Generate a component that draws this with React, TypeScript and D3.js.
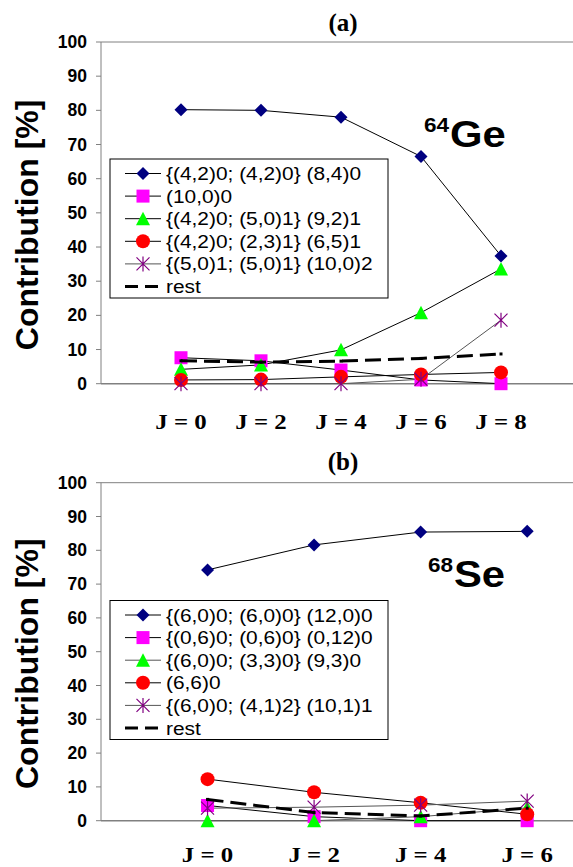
import React from "react";
import * as d3 from "d3";

// ---------- Data ----------
const categoriesA = ["J = 0", "J = 2", "J = 4", "J = 6", "J = 8"];
const categoriesB = ["J = 0", "J = 2", "J = 4", "J = 6"];
const yTicks = [0, 10, 20, 30, 40, 50, 60, 70, 80, 90, 100];

// Panel (a) 64Ge
const labelsA = [
  "{(4,2)0; (4,2)0} (8,4)0",
  "(10,0)0",
  "{(4,2)0; (5,0)1} (9,2)1",
  "{(4,2)0; (2,3)1} (6,5)1",
  "{(5,0)1; (5,0)1} (10,0)2",
  "rest",
];
const geS1 = [80.2, 80.0, 78.0, 66.5, 37.4];
const geS2 = [7.6, 6.7, 4.0, 1.1, 0.0];
const geS3 = [4.2, 5.5, 9.9, 20.8, 33.6];
const geS4 = [1.1, 1.2, 2.0, 2.7, 3.3];
const geS5 = [0.0, 0.0, 0.0, 1.3, 18.6];
const geRest = [6.7, 6.3, 6.6, 7.4, 8.7];

// Panel (b) 68Se
const labelsB = [
  "{(6,0)0; (6,0)0} (12,0)0",
  "{(0,6)0; (0,6)0} (0,12)0",
  "{(6,0)0; (3,3)0} (9,3)0",
  "(6,6)0",
  "{(6,0)0; (4,1)2} (10,1)1",
  "rest",
];
const seS1 = [74.2, 81.6, 85.4, 85.6];
const seS2 = [4.5, 1.2, 0.0, 0.0];
const seS3 = [0.0, 0.0, 1.2, 3.8];
const seS4 = [12.3, 8.4, 5.3, 1.9];
const seS5 = [3.7, 4.0, 4.6, 5.8];
const seRest = [6.3, 2.4, 1.4, 3.7];

// ---------- Styles ----------
const markerTypes = ["diamond", "square", "triangle", "circle", "star"];
const markerColors = ["#000080", "#FF00FF", "#00FF00", "#FF0000", "#800080"];
const lineColorsA = ["#000", "#000", "#000", "#000", "#555"];
const lineColorsB = ["#000", "#000", "#555", "#000", "#555"];
const SANS = "'Liberation Sans', Arial, Helvetica, sans-serif";
const SERIF = "'Liberation Serif', 'Times New Roman', serif";
const GRID = "#808080";

function Marker({ type, color, x, y }: { type: string; color: string; x: number; y: number }) {
  const h = 6.5;
  if (type === "diamond")
    return <path d={`M${x},${y - h}L${x + h},${y}L${x},${y + h}L${x - h},${y}Z`} fill={color} />;
  if (type === "square")
    return <rect x={x - 6.5} y={y - 6.5} width={13} height={13} fill={color} />;
  if (type === "triangle")
    return <path d={`M${x},${y - 7}L${x + 7},${y + 6.5}L${x - 7},${y + 6.5}Z`} fill={color} />;
  if (type === "circle") return <circle cx={x} cy={y} r={7} fill={color} />;
  return (
    <path
      d={`M${x - h},${y - h}L${x + h},${y + h}M${x - h},${y + h}L${x + h},${y - h}M${x},${y - h - 1}L${x},${y + h + 1}`}
      stroke={color}
      strokeWidth={1.2}
      fill="none"
    />
  );
}

type PanelProps = {
  title: string;
  categories: string[];
  series: number[][];
  rest: number[];
  labels: string[];
  lineColors: string[];
  top: number;
  bottom: number;
  xMax: number;
  isoMass: string;
  isoName: string;
  isoX: number;
  isoY: number;
  titleY: number;
  legendTop: number;
  catY: number;
};

function Panel(p: PanelProps) {
  const left = 101;
  const right = 573;
  const x = d3.scaleLinear().domain([-1, p.xMax]).range([left, right]);
  const y = d3.scaleLinear().domain([0, 100]).range([p.bottom, p.top]);
  const line = d3
    .line<number>()
    .x((_, i) => x(i))
    .y((v) => y(v));
  const rowH = 22.6;
  const legLeft = 110;
  const legRight = 388;
  const legH = 139;
  const stretch = 1.13;
  return (
    <g>
      <text
        x={343}
        y={p.titleY}
        textAnchor="middle"
        fontFamily={SERIF}
        fontWeight="bold"
        fontSize={25}
      >
        {p.title}
      </text>
      {/* axes frame */}
      <line x1={left} x2={right} y1={p.top} y2={p.top} stroke={GRID} strokeWidth={1} />
      <line x1={left} x2={left} y1={p.top} y2={p.bottom} stroke={GRID} strokeWidth={1} />
      <line x1={left} x2={right} y1={p.bottom} y2={p.bottom} stroke={GRID} strokeWidth={1.5} />
      {yTicks.map((t) => (
        <g key={t}>
          <line x1={left - 5} x2={left} y1={y(t)} y2={y(t)} stroke={GRID} />
          <text
            x={87}
            y={y(t)}
            textAnchor="end"
            dominantBaseline="central"
            fontFamily={SANS}
            fontWeight="bold"
            fontSize={17.5}
          >
            {t}
          </text>
        </g>
      ))}
      <text
        transform={`translate(38,${(p.top + p.bottom) / 2 + 12}) rotate(-90)`}
        textAnchor="middle"
        fontFamily={SANS}
        fontWeight="bold"
        fontSize={32}
      >
        Contribution [%]
      </text>
      {p.categories.map((c, i) => (
        <text
          key={c}
          transform={`translate(${x(i)},${p.catY}) scale(${stretch},1)`}
          textAnchor="middle"
          fontFamily={SERIF}
          fontWeight="bold"
          fontSize={22}
        >
          {c}
        </text>
      ))}
      {/* isotope label */}
      <g transform={`translate(${p.isoX},${p.isoY}) scale(${stretch},1)`}>
        <text x={0} y={-15} fontFamily={SANS} fontWeight="bold" fontSize={20}>
          {p.isoMass}
        </text>
        <text x={23} y={0} fontFamily={SANS} fontWeight="bold" fontSize={37}>
          {p.isoName}
        </text>
      </g>
      {/* series lines */}
      {p.series.map((s, k) => (
        <path key={k} d={line(s) || ""} fill="none" stroke={p.lineColors[k]} strokeWidth={1} />
      ))}
      {/* markers */}
      {p.series.map((s, k) =>
        s.map((v, i) => (
          <Marker key={`${k}-${i}`} type={markerTypes[k]} color={markerColors[k]} x={x(i)} y={y(v)} />
        ))
      )}
      {/* rest */}
      <path d={line(p.rest) || ""} fill="none" stroke="#000" strokeWidth={3} strokeDasharray="16,7" />
      {p.rest.map((v, i) => (
        <rect key={i} x={x(i) - 1.5} y={y(v) - 1.5} width={3} height={3} fill="#000" />
      ))}
      {/* legend */}
      <rect
        x={legLeft}
        y={p.legendTop}
        width={legRight - legLeft}
        height={legH}
        fill="#fff"
        stroke="#000"
        strokeWidth={1}
      />
      {p.labels.map((lab, k) => {
        const cy = p.legendTop + 14.5 + k * rowH;
        const isRest = k === p.labels.length - 1;
        return (
          <g key={lab}>
            {isRest ? (
              <path d={`M125,${cy}L161,${cy}`} stroke="#000" strokeWidth={3} strokeDasharray="13,7" />
            ) : (
              <>
                <line x1={125} x2={161} y1={cy} y2={cy} stroke={p.lineColors[k]} strokeWidth={1} />
                <Marker type={markerTypes[k]} color={markerColors[k]} x={143} y={cy} />
              </>
            )}
            <text
              transform={`translate(166,${cy}) scale(${stretch},1)`}
              dominantBaseline="central"
              fontFamily={SANS}
              fontSize={18.5}
            >
              {lab}
            </text>
          </g>
        );
      })}
    </g>
  );
}

export default function App() {
  return (
    <svg
      width={573}
      height={867}
      style={{ position: "absolute", left: 0, top: 0, background: "#fff" }}
    >
      <rect width={573} height={867} fill="#fff" />
      <Panel
        title="(a)"
        categories={categoriesA}
        series={[geS1, geS2, geS3, geS4, geS5]}
        rest={geRest}
        labels={labelsA}
        lineColors={lineColorsA}
        top={42}
        bottom={383.7}
        xMax={4.9}
        isoMass="64"
        isoName="Ge"
        isoX={424}
        isoY={146.5}
        titleY={31}
        legendTop={159}
        catY={429}
      />
      <Panel
        title="(b)"
        categories={categoriesB}
        series={[seS1, seS2, seS3, seS4, seS5]}
        rest={seRest}
        labels={labelsB}
        lineColors={lineColorsB}
        top={482.7}
        bottom={820.7}
        xMax={3.43}
        isoMass="68"
        isoName="Se"
        isoX={428}
        isoY={586.5}
        titleY={470}
        legendTop={600.5}
        catY={862}
      />
    </svg>
  );
}
